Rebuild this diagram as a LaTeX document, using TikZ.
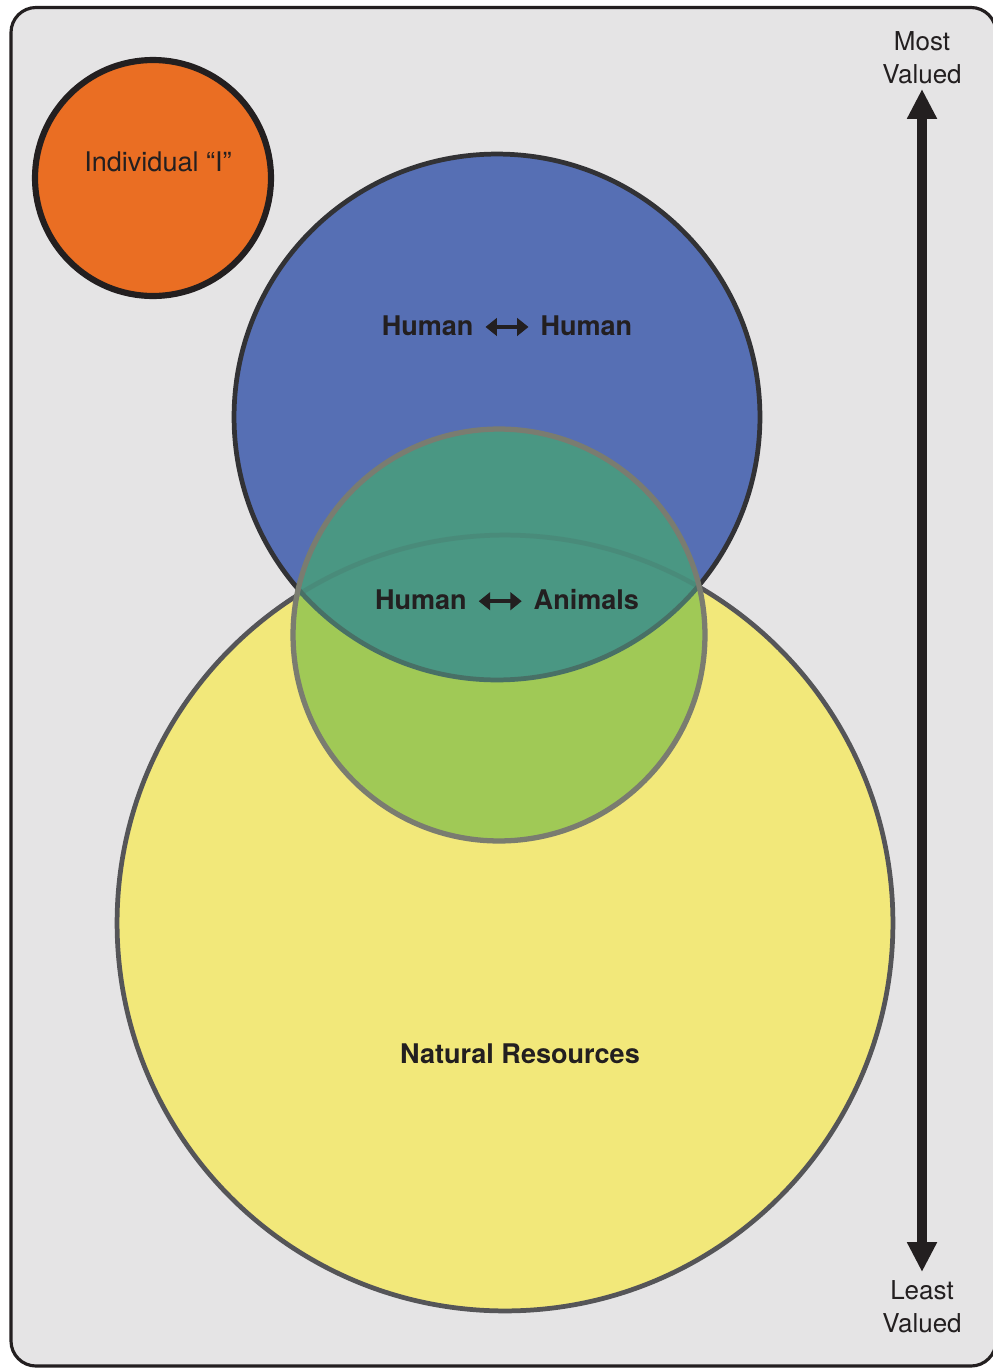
\documentclass[tikz,border=0pt]{standalone}
\usepackage{fontspec}
\setmainfont{TeX Gyre Heros}
\usepackage{tikz}
\usetikzlibrary{arrows.meta}
\definecolor{ink}{RGB}{35,31,32}
\definecolor{framefill}{RGB}{229,228,229}
\definecolor{selffill}{RGB}{234,110,35}
\definecolor{humanfill}{RGB}{86,111,180}
\definecolor{resfill}{RGB}{242,232,122}
\definecolor{animalfill}{RGB}{160,201,86}
\definecolor{overlapfill}{RGB}{74,151,131}
\definecolor{circline}{RGB}{50,50,53}
\definecolor{resline}{RGB}{85,85,88}
\definecolor{animalline}{RGB}{122,124,112}
\definecolor{overlapline}{RGB}{72,112,102}
\newcommand{\twoway}{\tikz[baseline=-0.6ex]\draw[ink, line width=2.3pt,
  {Triangle[length=6.5pt,width=10pt]}-{Triangle[length=6.5pt,width=10pt]}] (0,0) -- (0.86cm,0);}

\begin{document}
\begin{tikzpicture}[x=0.02cm, y=-0.02cm,
  disc/.style={circle, inner sep=0pt, minimum size=#1},
  tag/.style={text=ink, inner sep=0pt, font=\fontsize{15.4}{18}\selectfont},
  boldtag/.style={tag, font=\fontsize{15.4}{18}\selectfont\bfseries},
  valtag/.style={text=ink, inner sep=0pt, align=center, font=\fontsize{14.8}{18.8}\selectfont}]
\useasboundingbox (0,0) rectangle (992,1369);
\draw[ink, line width=1.8pt, fill=framefill, rounded corners=0.5cm] (11,7.5) rectangle (996,1366);
% circles
\node[disc=4.72cm, fill=selffill, draw=ink, line width=3.5pt] (self) at (153,178) {};
\node[disc=15.52cm, fill=resfill, draw=resline, line width=2.7pt] (natural) at (505,923) {};
\node[disc=10.52cm, fill=humanfill, draw=circline, line width=2.7pt] (human) at (497,417) {};
\node[disc=8.24cm, fill=animalfill] (animal) at (499,635) {};
% overlap of human and animal circles
\begin{scope}
  \clip (animal.center) circle (4.12cm);
  \fill[overlapfill] (human.center) circle (5.26cm);
  \draw[overlapline, line width=2.7pt] (human.center) circle (5.26cm);
  \draw[overlapline, line width=2.7pt, opacity=0.3] (natural.center) circle (7.76cm);
\end{scope}
\draw[animalline, line width=3pt] (animal.center) circle (4.12cm);
% labels
\node[tag] (selflbl) at (158,162) {Individual “I”};
\node[boldtag] (hhlbl) at (507,326) {Human\hspace{0.2cm}\twoway\hspace{0.2cm}Human};
\node[boldtag] (halbl) at (507,600) {Human\hspace{0.2cm}\twoway\hspace{0.2cm}Animals};
\node[boldtag] (nrlbl) at (520,1054) {Natural Resources};
% value scale
\coordinate (mosttip) at (922,89);
\coordinate (leasttip) at (922,1272);
\draw[ink, line width=6pt, {Triangle[length=17pt,width=16pt]}-{Triangle[length=17pt,width=16pt]}] (mosttip) -- (leasttip);
\node[valtag, anchor=south] (most) at (922,84) {Most\\Valued};
\node[valtag, anchor=north] (least) at (922,1280) {Least\\Valued};
\end{tikzpicture}
\end{document}
